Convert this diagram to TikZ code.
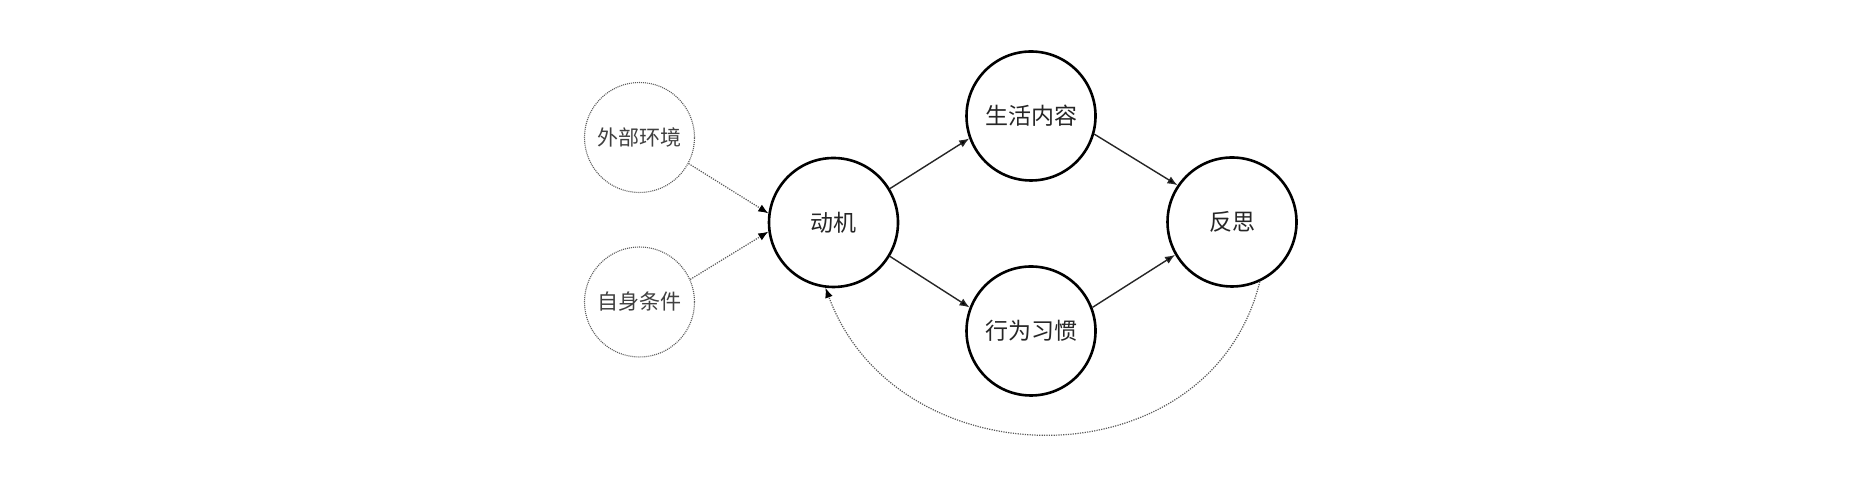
\documentclass[tikz,border=0pt]{standalone}
\usepackage{fontspec}
\newfontfamily\cjk{Noto Sans CJK SC}
\usetikzlibrary{arrows.meta}
\begin{document}
\begin{tikzpicture}[x=0.5pt,y=0.5pt,
  bignode/.style={circle,draw=black,line width=1.3pt,minimum size=64.5pt,inner sep=0pt,font=\cjk\fontsize{11.5}{13}\selectfont,text=black!85},
  smallnode/.style={circle,draw=black!65,line width=0.55pt,dash pattern=on 0.5pt off 0.5pt,minimum size=55pt,inner sep=0pt,font=\cjk\fontsize{10.5}{12}\selectfont,text=black!75},
  solidarrow/.style={draw=black!85,line width=0.7pt,-{Latex[length=5pt,width=4pt,fill=black]}},
  dotarrow/.style={draw=black!65,line width=0.6pt,dash pattern=on 0.6pt off 0.6pt,-{Latex[length=5pt,width=4pt,fill=black,color=black]}}
]
\path[fill=white] (0,0) rectangle (1866,480);
\useasboundingbox (0,0) rectangle (1866,480);
\node[smallnode] (env) at (639.5,342.5) {外部环境};
\node[smallnode] (self) at (639.5,178) {自身条件};
\node[bignode] (mot) at (833.5,257.5) {动机};
\node[bignode] (life) at (1031,364) {生活内容};
\node[bignode] (hab) at (1031,149) {行为习惯};
\node[bignode] (ref) at (1232,258) {反思};
\draw[dotarrow] (env.-28.6) -- (mot.172);
\draw[dotarrow] (self.24.5) -- (mot.188);
\draw[solidarrow] (mot.31.4) -- (life.200);
\draw[solidarrow] (mot.-31.6) -- (hab.159);
\draw[solidarrow] (life.-16) -- (ref.146);
\draw[solidarrow] (hab.21) -- (ref.210);
\draw[dotarrow] (ref.-65) .. controls (1210,-4) and (898,-4) .. (mot.-97);
\end{tikzpicture}
\end{document}
